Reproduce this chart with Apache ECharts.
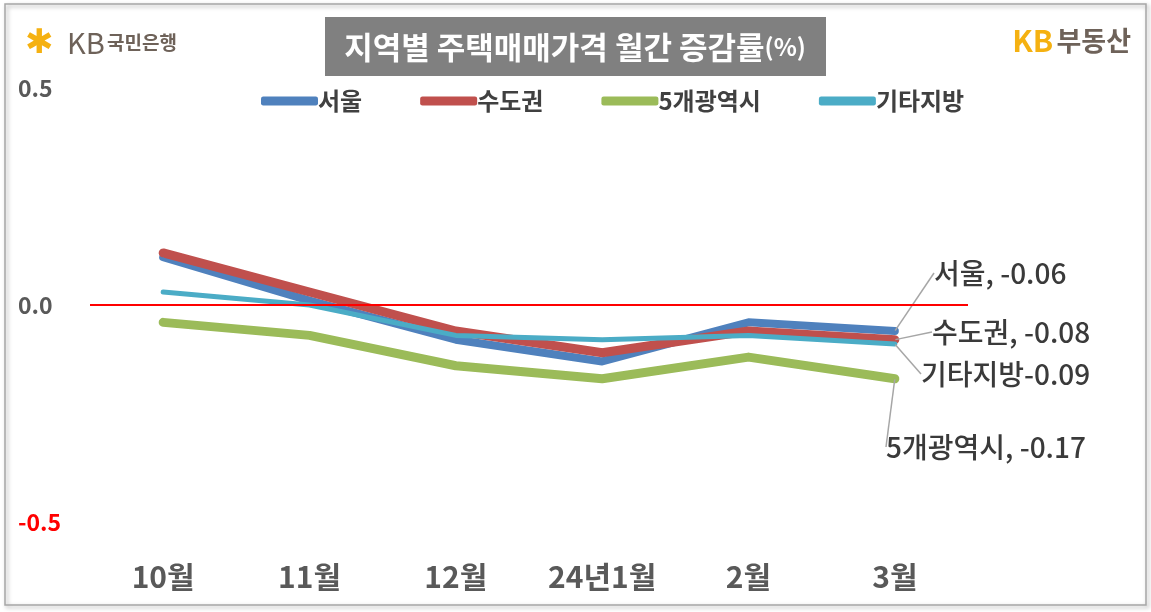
<!DOCTYPE html>
<html>
<head>
<meta charset="utf-8">
<script src="https://cdn.jsdelivr.net/npm/echarts@6/dist/echarts.min.js"></script>
<style>
  html, body { margin: 0; padding: 0; background: #fff; }
  #chart { width: 1151px; height: 612px; }
</style>
</head>
<body>
<div id="chart"></div>
<script>
// 월별 카테고리
const months = ["10월", "11월", "12월", "24년1월", "2월", "3월"];
// 지역별 월간 증감률 (%)
const seoul = [0.11, 0.01, -0.08, -0.13, -0.04, -0.06];
const capital = [0.12, 0.03, -0.06, -0.11, -0.06, -0.08];
const metro5 = [-0.04, -0.07, -0.14, -0.17, -0.12, -0.17];
const others = [0.03, 0.00, -0.07, -0.08, -0.07, -0.09];
const yTicks = [-0.5, 0.0, 0.5];

const FONT = '"Noto Sans CJK KR", "Noto Sans", sans-serif';

// 마지막 값 라벨 위치
const endLabelPos = {
  "서울": [934, 273],
  "수도권": [932, 332],
  "기타지방": [921, 374],
  "5개광역시": [886, 447]
};

const makeSeries = (name, data, color, width, sep) => {
  const last = data.length - 1;
  return {
    name: name,
    type: "line",
    data: data.map((v, i) => i === last ? {
      value: v,
      label: {
        show: true,
        formatter: p => name + sep + p.value.toFixed(2)
      }
    } : v),
    symbol: "circle",
    symbolSize: 1,
    showSymbol: true,
    lineStyle: { color: color, width: width, cap: "round", join: "round" },
    itemStyle: { color: color },
    label: {
      show: false,
      fontFamily: FONT,
      fontSize: 28,
      fontWeight: 500,
      color: "#3a3a3a"
    },
    labelLine: {
      show: true,
      lineStyle: { color: "#a6a6a6", width: 1.5 }
    },
    labelLayout: p => {
      if (p.dataIndex !== last) return {};
      const pos = endLabelPos[name];
      return { x: pos[0], y: pos[1], align: "left", verticalAlign: "middle" };
    },
    animation: false
  };
};

const chart = echarts.init(document.getElementById("chart"));

const series = [
  makeSeries("서울", seoul, "#4f81bd", 8, ", "),
  makeSeries("수도권", capital, "#c0504d", 9, ", "),
  makeSeries("5개광역시", metro5, "#9bbb59", 9, ", "),
  makeSeries("기타지방", others, "#4bacc6", 5, "")
];
// 0 기준선
series[0].markLine = {
  silent: true,
  symbol: "none",
  label: { show: false },
  lineStyle: { color: "#ff0000", width: 2, type: "solid" },
  data: [{ yAxis: 0 }]
};

chart.setOption({
  backgroundColor: "#fff",
  animation: false,
  grid: { left: 90, right: 183, top: 88, bottom: 90 },
  legend: {
    data: ["서울", "수도권", "5개광역시", "기타지방"],
    left: 256,
    top: 84,
    icon: "roundRect",
    itemWidth: 57,
    itemHeight: 9,
    itemGap: 58,
    textStyle: { fontFamily: FONT, fontSize: 24, fontWeight: "bold", color: "#404040", padding: [0, 0, 0, -5] }
  },
  xAxis: {
    type: "category",
    data: months,
    boundaryGap: true,
    axisLine: { show: false, onZero: false },
    axisTick: { show: false },
    axisLabel: {
      margin: 40,
      fontFamily: FONT,
      fontSize: 30,
      fontWeight: "bold",
      color: "#595959"
    },
    splitLine: { show: false }
  },
  yAxis: {
    type: "value",
    min: yTicks[0],
    max: yTicks[yTicks.length - 1],
    interval: 0.5,
    axisLine: { show: false },
    axisTick: { show: false },
    splitLine: { show: false },
    axisLabel: {
      align: "left",
      margin: 72,
      fontFamily: FONT,
      fontSize: 23,
      fontWeight: "bold",
      formatter: v => v.toFixed(1),
      color: v => (v < 0 ? "#ff0000" : "#595959")
    }
  },
  graphic: [
    // 외곽 테두리
    {
      type: "rect",
      shape: { x: 5, y: 4, width: 1141, height: 601 },
      style: {
        fill: null, stroke: "#a6a6a6", lineWidth: 1.5,
        shadowBlur: 4, shadowColor: "rgba(0,0,0,0.35)", shadowOffsetX: 2, shadowOffsetY: 2
      },
      silent: true
    },
    // 제목 박스
    {
      type: "rect",
      shape: { x: 325, y: 17, width: 501, height: 59 },
      style: { fill: "#808080" },
      silent: true
    },
    {
      type: "text",
      x: 575, y: 47,
      style: {
        text: "{m|지역별 주택매매가격 월간 증감률}{s|(%)}",
        align: "center",
        verticalAlign: "middle",
        rich: {
          m: { fontFamily: FONT, fontSize: 31, fontWeight: "bold", fill: "#fff" },
          s: { fontFamily: FONT, fontSize: 24, fontWeight: "bold", fill: "#fff" }
        }
      },
      silent: true
    },
    // KB국민은행 로고
    {
      type: "text",
      x: 25, y: 44,
      style: {
        text: "✱",
        verticalAlign: "middle",
        fontFamily: "DejaVu Sans", fontSize: 34, fill: "#f5b111", fontWeight: "bold"
      },
      silent: true
    },
    {
      type: "text",
      x: 67, y: 43,
      style: {
        text: "KB",
        verticalAlign: "middle",
        fontFamily: FONT, fontSize: 29, fill: "#6e6259"
      },
      silent: true
    },
    {
      type: "text",
      x: 107, y: 43,
      style: {
        text: "국민은행",
        verticalAlign: "middle",
        fontFamily: FONT, fontSize: 19, fill: "#6e6259", fontWeight: "bold"
      },
      silent: true
    },
    // KB부동산 로고
    {
      type: "text",
      x: 1131, y: 41,
      style: {
        text: "{k|KB} {b|부동산}",
        align: "right",
        verticalAlign: "middle",
        rich: {
          k: { fontFamily: FONT, fontSize: 30, fontWeight: "bold", fill: "#f5b111" },
          b: { fontFamily: FONT, fontSize: 27, fontWeight: "bold", fill: "#6e6259" }
        }
      },
      silent: true
    }
  ],
  series: series
});
</script>
</body>
</html>
